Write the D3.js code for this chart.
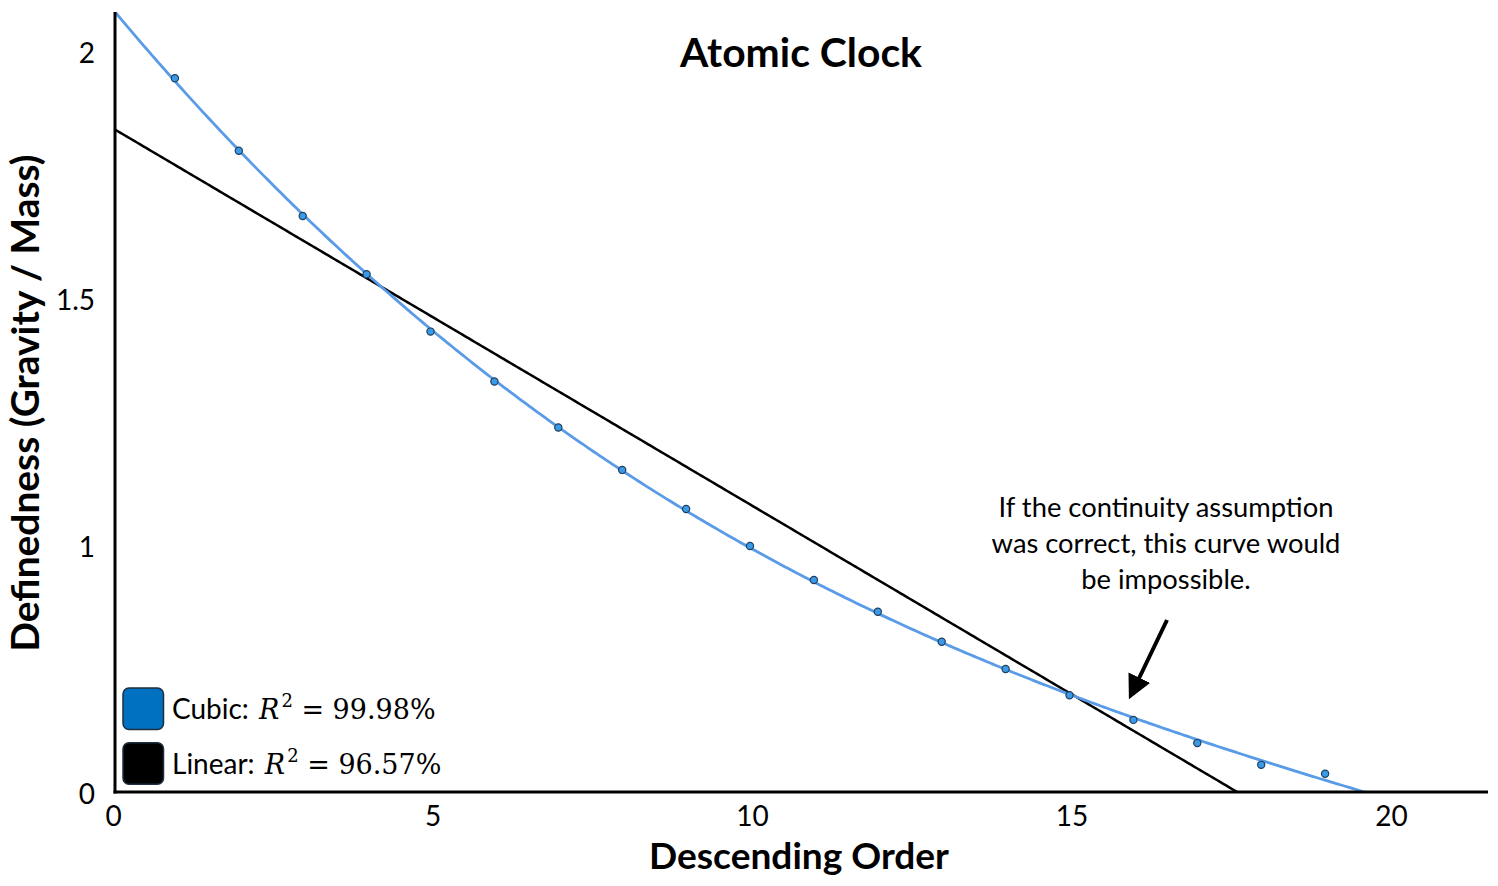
<!DOCTYPE html>
<html><head><meta charset="utf-8">
<script src="https://cdn.jsdelivr.net/npm/d3@7"></script>
<style>body{margin:0;background:#fff}</style>
</head><body>
<svg id="chart" width="1498" height="886"></svg>
<script>
// ---- data ----
const orderX = [1,2,3,4,5,6,7,8,9,10,11,12,13,14,15,16,17,18,19];
const definedness = [1.945,1.798,1.666,1.548,1.432,1.331,1.238,1.152,1.073,0.998,0.929,0.865,0.804,0.749,0.696,0.646,0.599,0.555,0.537];
const xTickValues = [0,5,10,15,20];
const xTickLabels = ["0","5","10","15","20"];
const yTickValues = [0.5,1,1.5,2];
const yTickLabels = ["0","1","1.5","2"];
const legendNames = ["Cubic:", "Linear:"];
const legendR2 = ["99.98%", "96.57%"];
const legendColors = ["#0070c0", "#000000"];
const annotationLines = ["If the continuity assumption", "was correct, this curve would", "be impossible."];
const titleText = "Atomic Clock";
const xTitle = "Descending Order";
const yTitle = "Definedness (Gravity / Mass)";

// ---- least squares polynomial fit ----
function polyfit(xs, ys, deg) {
  const n = deg + 1;
  const A = Array.from({length:n}, () => new Array(n + 1).fill(0));
  xs.forEach((x, k) => {
    for (let i = 0; i < n; i++) {
      for (let j = 0; j < n; j++) A[i][j] += Math.pow(x, i + j);
      A[i][n] += ys[k] * Math.pow(x, i);
    }
  });
  for (let c = 0; c < n; c++) {
    let p = c;
    for (let r = c + 1; r < n; r++) if (Math.abs(A[r][c]) > Math.abs(A[p][c])) p = r;
    [A[c], A[p]] = [A[p], A[c]];
    for (let r = 0; r < n; r++) {
      if (r === c) continue;
      const f = A[r][c] / A[c][c];
      for (let k = c; k <= n; k++) A[r][k] -= f * A[c][k];
    }
  }
  return A.map((row, i) => row[n] / row[i]);
}
const evalPoly = (co, x) => co.reduce((s, c, i) => s + c * Math.pow(x, i), 0);
const cubicCo = polyfit(orderX, definedness, 3);
const linCo = polyfit(orderX, definedness, 1);

// ---- layout ----
const svg = d3.select("#chart");
const FONT = "Lato, 'Open Sans', sans-serif";
const x = d3.scaleLinear().domain([0, 20]).range([111, 1389]);
const y = d3.scaleLinear().domain([0.5, 2]).range([792, 51]);
const xEnd = 21.55, yTop = 2.079;
const plotL = 115, plotR = x(xEnd), plotT = y(yTop), plotB = y(0.5);

const defs = svg.append("defs");
defs.append("clipPath").attr("id", "plotclip")
  .append("rect").attr("x", plotL).attr("y", plotT).attr("width", plotR - plotL).attr("height", plotB - plotT);

function fitWidth(sel, target) {
  const w = sel.node().getComputedTextLength();
  const fs = parseFloat(sel.attr("font-size"));
  sel.attr("font-size", fs * target / w);
}

// fit lines
const g = svg.append("g").attr("clip-path", "url(#plotclip)");
const samples = d3.range(0, xEnd + 0.001, 0.05);
const lineGen = co => d3.line().x(d => x(d)).y(d => y(evalPoly(co, d)));
g.append("path").datum(samples).attr("d", lineGen(linCo))
  .attr("fill", "none").attr("stroke", "#000").attr("stroke-width", 2.5);
g.append("path").datum(samples).attr("d", lineGen(cubicCo))
  .attr("fill", "none").attr("stroke", "#5a9be8").attr("stroke-width", 2.8);

// points
svg.append("g").selectAll("circle").data(orderX).join("circle")
  .attr("cx", d => x(d)).attr("cy", (d, i) => y(definedness[i]))
  .attr("r", 3.6).attr("fill", "#3a9ae8").attr("stroke", "#1f3f5f").attr("stroke-width", 1.2);

// axes
const xAxis = d3.axisBottom(x).tickValues(xTickValues).tickFormat((d, i) => xTickLabels[i]).tickSize(0).tickPadding(12);
const xg = svg.append("g").attr("transform", `translate(0,${plotB})`).call(xAxis);
xg.select(".domain").remove();
xg.selectAll("text").attr("font-family", FONT).attr("font-size", 28).attr("fill", "#000").attr("dx", 2).attr("dy", "0.8em");
svg.append("line").attr("x1", plotL - 1.5).attr("x2", plotR).attr("y1", plotB).attr("y2", plotB)
  .attr("stroke", "#000").attr("stroke-width", 3);

const yAxis = d3.axisLeft(y).tickValues(yTickValues).tickFormat((d, i) => yTickLabels[i]).tickSize(0).tickPadding(20);
const yg = svg.append("g").attr("transform", `translate(${plotL},0)`).call(yAxis);
yg.select(".domain").remove();
yg.selectAll("text").attr("font-family", FONT).attr("font-size", 28).attr("fill", "#000").attr("dy", "0.4em");
svg.append("line").attr("x1", plotL).attr("x2", plotL).attr("y1", plotT).attr("y2", plotB + 1.5)
  .attr("stroke", "#000").attr("stroke-width", 3);

// titles
const t = svg.append("text").text(titleText).attr("x", 801).attr("y", 67)
  .attr("text-anchor", "middle").attr("font-family", FONT).attr("font-weight", "bold").attr("font-size", 38);
fitWidth(t, 242);
const xt = svg.append("text").text(xTitle).attr("x", 799).attr("y", 869)
  .attr("text-anchor", "middle").attr("font-family", FONT).attr("font-weight", "bold").attr("font-size", 38);
fitWidth(xt, 300);
const yt = svg.append("text").text(yTitle).attr("transform", "translate(39,403) rotate(-90)")
  .attr("text-anchor", "middle").attr("font-family", FONT).attr("font-weight", "bold").attr("font-size", 38);
fitWidth(yt, 497);

// annotation
const ann = svg.append("g");
const annTexts = ann.selectAll("text").data(annotationLines).join("text")
  .text(d => d).attr("x", 1166).attr("y", (d, i) => 517 + i * 35.8)
  .attr("text-anchor", "middle").attr("font-family", FONT).attr("font-size", 24).attr("fill", "#000");
{
  const n2 = annTexts.filter((d, i) => i === 1);
  const w = n2.node().getComputedTextLength();
  annTexts.attr("font-size", 24 * 349 / w);
}
defs.append("marker").attr("id", "arrowhead")
  .attr("viewBox", "0 0 10 10").attr("refX", 8).attr("refY", 5)
  .attr("markerWidth", 6).attr("markerHeight", 6).attr("orient", "auto")
  .append("path").attr("d", "M0,0 L10,5 L0,10 z").attr("fill", "#000");
svg.append("line").attr("x1", 1167).attr("y1", 620).attr("x2", 1131).attr("y2", 695)
  .attr("stroke", "#000").attr("stroke-width", 4).attr("marker-end", "url(#arrowhead)");

// legend
const leg = svg.append("g");
legendNames.forEach((name, i) => {
  const top = 688 + i * 54.7;
  leg.append("rect").attr("x", 123).attr("y", top).attr("width", 40.5).attr("height", 41.5)
    .attr("rx", 6).attr("fill", legendColors[i]).attr("stroke", "#1d2f40").attr("stroke-width", 1.5);
  const tx = leg.append("text").attr("x", 172).attr("y", top + 31).attr("fill", "#000");
  tx.append("tspan").text(name + " ").attr("font-family", FONT).attr("font-size", 28);
  tx.append("tspan").text("R").attr("font-family", "'DejaVu Serif', serif").attr("font-style", "italic").attr("font-size", 27).attr("dx", 3);
  tx.append("tspan").text("2").attr("font-family", "'DejaVu Serif', serif").attr("font-size", 18).attr("dy", -12).attr("dx", 2);
  tx.append("tspan").text(" = " + legendR2[i]).attr("font-family", "'DejaVu Serif', serif").attr("font-size", 27).attr("dy", 12);
});
</script>
</body></html>
